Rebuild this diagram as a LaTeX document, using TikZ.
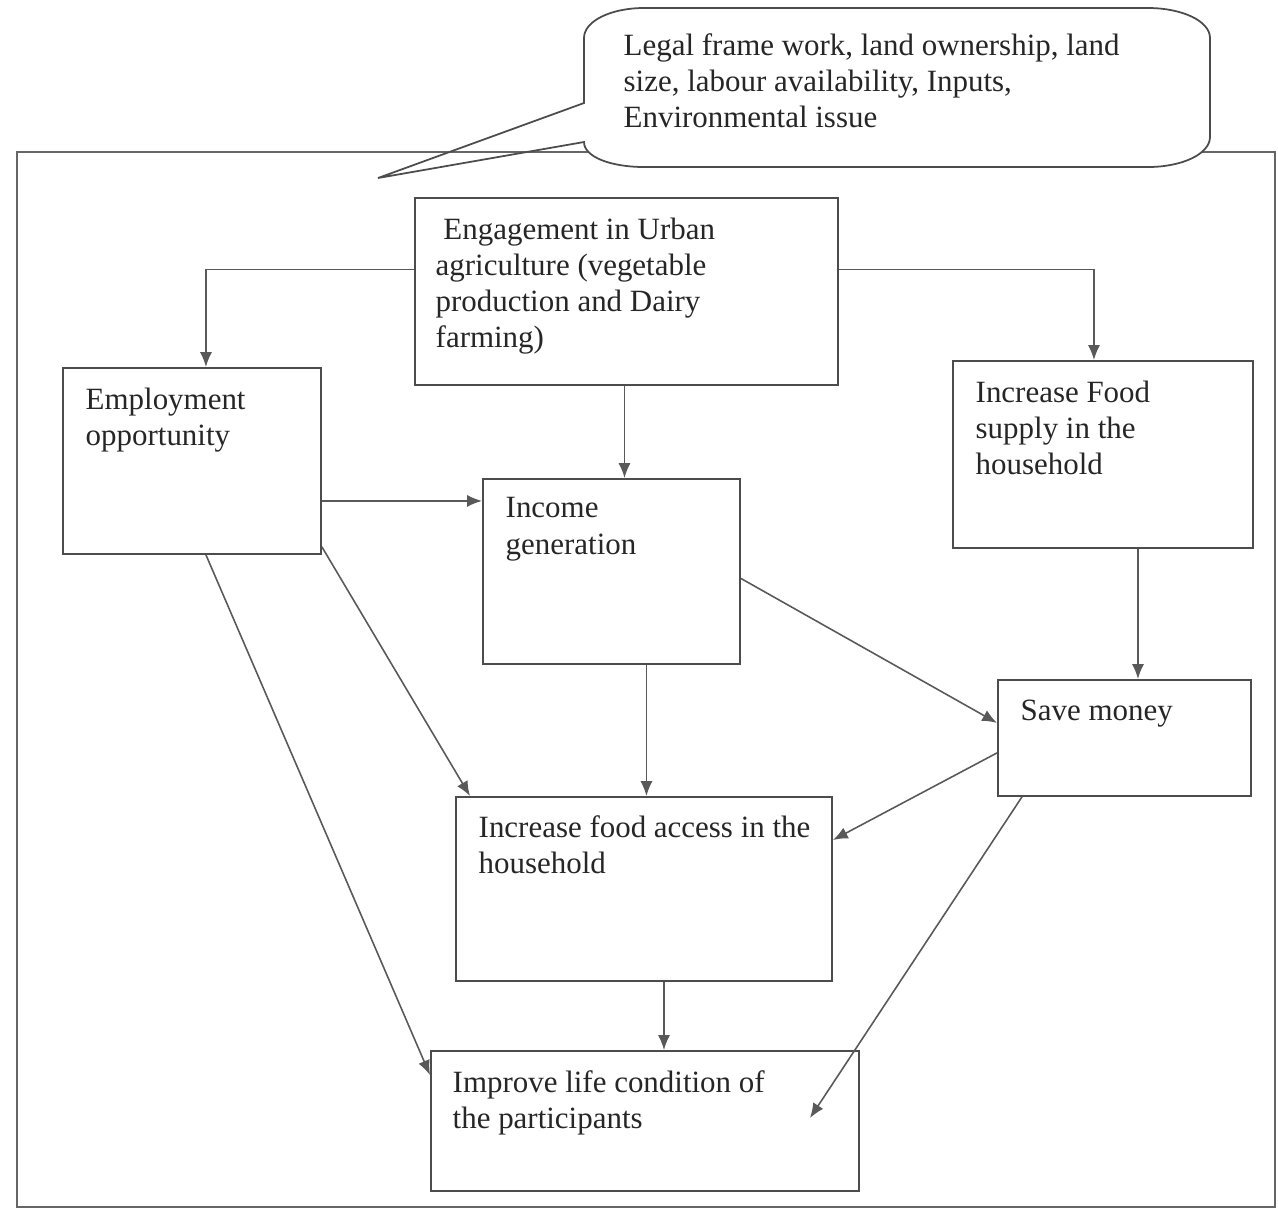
\documentclass[tikz,border=0pt]{standalone}
\usepackage{fontspec}
\setmainfont{Liberation Serif}
\usepackage{tikz}
\usetikzlibrary{arrows.meta,calc}

\begin{document}
\begin{tikzpicture}[x=0.01cm,y=-0.01cm,
  box/.style={draw=black!70,line width=0.5pt,anchor=north west,inner sep=0pt},
  txt/.style={anchor=north west,align=left,inner sep=0pt,text=black!85,
    font=\fontsize{8.8}{10.3}\selectfont},
  link/.style={draw=black!65,line width=0.45pt,-{Latex[length=4.2pt,width=3.4pt]}}]
\useasboundingbox (0,0) rectangle (1278,1211);
% outer frame
\draw[black!60,line width=0.45pt] (17,152) rectangle (1275,1207);
% callout
\fill[white] (584,38) .. controls (584,21) and (611,8) .. (644,8) -- (1148,8)
  .. controls (1182,8) and (1210,21) .. (1210,38) -- (1210,137)
  .. controls (1210,154) and (1182,167) .. (1148,167) -- (644,167)
  .. controls (611,167) and (584,157) .. (584,142) -- cycle;
\draw[black!70,line width=0.5pt] (584,103) -- (584,38) .. controls (584,21) and (611,8) .. (644,8) -- (1148,8)
  .. controls (1182,8) and (1210,21) .. (1210,38) -- (1210,137)
  .. controls (1210,154) and (1182,167) .. (1148,167) -- (644,167)
  .. controls (611,167) and (584,157) .. (584,142) -- (378,178) -- cycle;
\node[txt] (issues) at (623,33) {Legal frame work, land ownership, land\\
size, labour availability, Inputs,\\
Environmental issue};

% boxes
\node[box,minimum width=4.23cm,minimum height=1.87cm] (eng) at (414,197) {};
\node[box,minimum width=2.58cm,minimum height=1.86cm] (emp) at (62,367) {};
\node[box,minimum width=3.00cm,minimum height=1.87cm] (sup) at (952,360) {};
\node[box,minimum width=2.57cm,minimum height=1.85cm] (inc) at (482,478) {};
\node[box,minimum width=2.53cm,minimum height=1.16cm] (sav) at (997,679) {};
\node[box,minimum width=3.76cm,minimum height=1.84cm] (acc) at (455,796) {};
\node[box,minimum width=4.28cm,minimum height=1.40cm] (imp) at (430,1050) {};

% texts
\node[txt] (engtxt) at (435,217) {\ Engagement in Urban\\
agriculture (vegetable\\
production and Dairy\\
farming)};
\node[txt] (emptxt) at (85,387) {Employment\\opportunity};
\node[txt] (suptxt) at (975,380) {Increase Food\\supply in the\\household};
\node[txt] (inctxt) at (505,497) {Income\\generation};
\node[txt] (savtxt) at (1020,699) {Save money};
\node[txt] (acctxt) at (478,815) {Increase food access in the\\household};
\node[txt] (imptxt) at (452,1070) {Improve life condition of\\the participants};

% connectors
\draw[link] ($(eng.west)+(0,-22)$) -| ($(emp.north)+(14,0)$);
\draw[link] ($(eng.east)+(0,-22)$) -| ($(sup.north)+(-9,0)$);
\draw[link] ($(eng.south)+(-2,0)$) coordinate (a1) -- (a1 |- inc.north);
\draw[link] ($(emp.east)+(0,40)$) coordinate (a2) -- (a2 -| inc.west);
\draw[link] ($(emp.south)+(14,0)$) -- ($(imp.north west)+(0,25)$);
\draw[link] ($(emp.south east)+(0,-8)$) -- ($(acc.north west)+(15,0)$);
\draw[link] ($(inc.east)+(0,7)$) -- ($(sav.west)+(0,-15)$);
\draw[link] ($(inc.south)+(35,0)$) coordinate (a3) -- (a3 |- acc.north);
\draw[link] ($(sup.south)+(35,0)$) coordinate (a4) -- (a4 |- sav.north);
\draw[link] ($(sav.west)+(0,15)$) -- ($(acc.north east)+(0,44)$);
\coordinate (lifeend) at ($(imp.north east)+(-50,68)$);
\draw[link] ($(sav.south west)+(25,0)$) -- (lifeend);
\draw[link] ($(acc.south)+(20,0)$) coordinate (a5) -- (a5 |- imp.north);
\end{tikzpicture}
\end{document}
